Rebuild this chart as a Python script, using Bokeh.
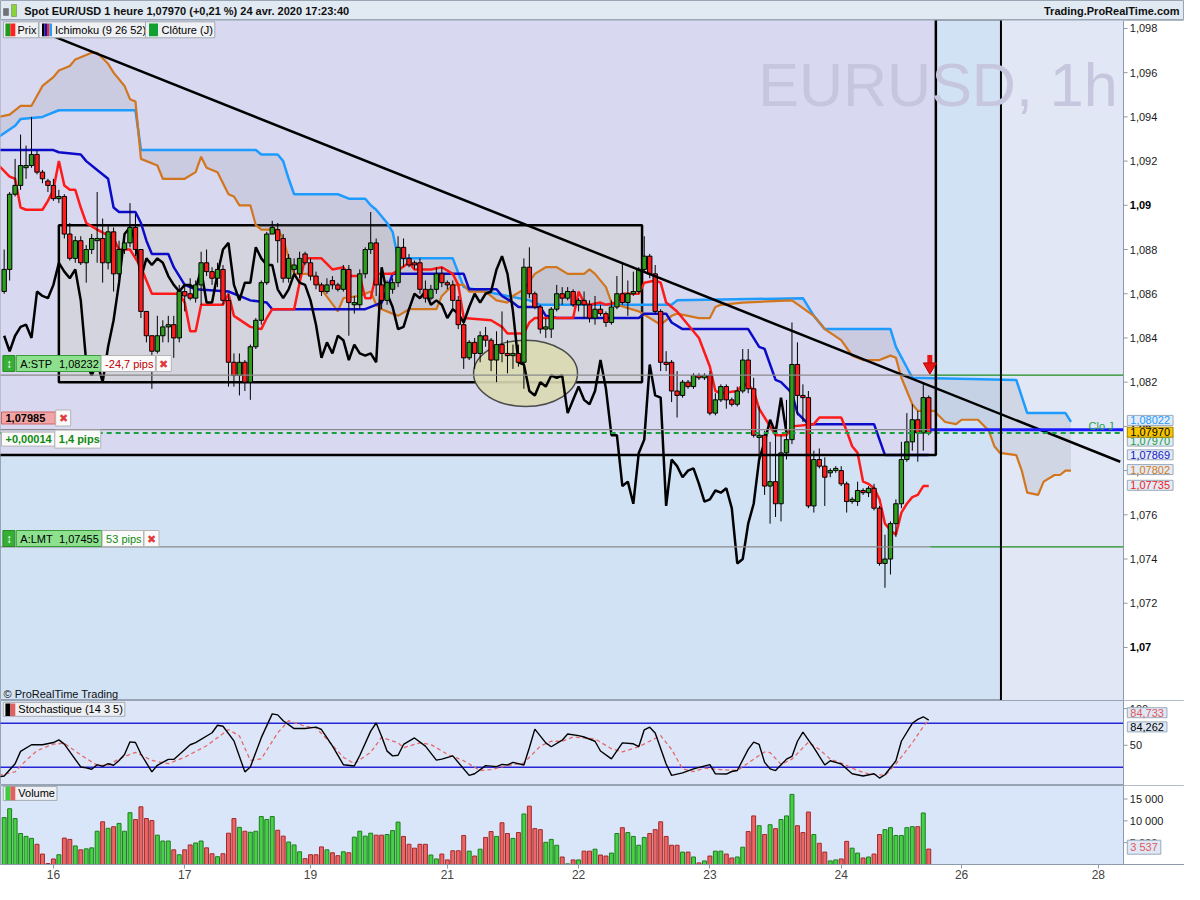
import numpy as np
from bokeh.plotting import figure
from bokeh.layouts import column
from bokeh.models import (Range1d, FixedTicker, Label, BoxAnnotation,
                          ColumnDataSource)
from bokeh.core.properties import value
from bokeh.embed import file_html
from bokeh.resources import INLINE

FONT = "Liberation Sans"
W = 1184

# ---------------- data (hourly EUR/USD, 15 -> 24 April 2020) ----------------
opens = [
    1.0861, 1.0871, 1.0905, 1.0909, 1.0917, 1.0918, 1.0923, 1.0915, 1.0911, 1.0909,
    1.0903, 1.0904, 1.0887, 1.0876, 1.0884, 1.0874, 1.0880, 1.0884, 1.0885, 1.0874,
    1.0888, 1.0869, 1.0880, 1.0883, 1.0890, 1.0880, 1.0852, 1.0841, 1.0834, 1.0841,
    1.0845, 1.0846, 1.0840, 1.0861, 1.0860, 1.0858, 1.0864, 1.0874, 1.0870, 1.0867,
    1.0871, 1.0857, 1.0829, 1.0823, 1.0829, 1.0820, 1.0836, 1.0848, 1.0865, 1.0887,
    1.0889, 1.0885, 1.0867, 1.0871, 1.0869, 1.0878, 1.0874, 1.0868, 1.0864, 1.0861,
    1.0866, 1.0864, 1.0862, 1.0871, 1.0855, 1.0855, 1.0869, 1.0880, 1.0883, 1.0864,
    1.0857, 1.0862, 1.0865, 1.0881, 1.0876, 1.0874, 1.0874, 1.0862, 1.0858, 1.0862,
    1.0869, 1.0865, 1.0864, 1.0857, 1.0846, 1.0831, 1.0838, 1.0833, 1.0841, 1.0839,
    1.0830, 1.0837, 1.0833, 1.0832, 1.0833, 1.0829, 1.0872, 1.0860, 1.0854, 1.0844,
    1.0844, 1.0853, 1.0860, 1.0858, 1.0861, 1.0855, 1.0857, 1.0855, 1.0849, 1.0853,
    1.0851, 1.0847, 1.0854, 1.0860, 1.0856, 1.0860, 1.0861, 1.0871, 1.0877, 1.0869,
    1.0852, 1.0829, 1.0829, 1.0816, 1.0814, 1.0820, 1.0818, 1.0823, 1.0822, 1.0823,
    1.0806, 1.0812, 1.0818, 1.0812, 1.0810, 1.0816, 1.0830, 1.0817, 1.0795, 1.0796,
    1.0773, 1.0775, 1.0765, 1.0788, 1.0794, 1.0828, 1.0814, 1.0813, 1.0764, 1.0785,
    1.0782, 1.0779, 1.0780, 1.0780, 1.0774, 1.0766, 1.0766, 1.0771, 1.0770, 1.0772,
    1.0763, 1.0738, 1.0740, 1.0756, 1.0765, 1.0785, 1.0793, 1.0803, 1.0797, 1.0813,
]
highs = [
    1.0880, 1.0906, 1.0921, 1.0932, 1.0927, 1.0940, 1.0925, 1.0916, 1.0912, 1.0912,
    1.0907, 1.0905, 1.0892, 1.0886, 1.0886, 1.0882, 1.0887, 1.0906, 1.0894, 1.0891,
    1.0890, 1.0884, 1.0886, 1.0901, 1.0896, 1.0880, 1.0852, 1.0841, 1.0850, 1.0848,
    1.0850, 1.0850, 1.0864, 1.0864, 1.0867, 1.0866, 1.0879, 1.0880, 1.0872, 1.0874,
    1.0873, 1.0860, 1.0833, 1.0833, 1.0830, 1.0837, 1.0849, 1.0866, 1.0888, 1.0893,
    1.0892, 1.0887, 1.0878, 1.0876, 1.0879, 1.0879, 1.0876, 1.0870, 1.0865, 1.0867,
    1.0868, 1.0865, 1.0873, 1.0873, 1.0859, 1.0871, 1.0881, 1.0897, 1.0885, 1.0866,
    1.0866, 1.0867, 1.0886, 1.0885, 1.0878, 1.0875, 1.0876, 1.0866, 1.0864, 1.0872,
    1.0872, 1.0866, 1.0866, 1.0859, 1.0847, 1.0839, 1.0840, 1.0843, 1.0845, 1.0840,
    1.0843, 1.0852, 1.0839, 1.0837, 1.0837, 1.0876, 1.0881, 1.0861, 1.0855, 1.0849,
    1.0854, 1.0864, 1.0863, 1.0863, 1.0862, 1.0858, 1.0861, 1.0857, 1.0859, 1.0855,
    1.0852, 1.0857, 1.0868, 1.0874, 1.0866, 1.0870, 1.0872, 1.0886, 1.0878, 1.0873,
    1.0853, 1.0834, 1.0830, 1.0825, 1.0821, 1.0821, 1.0824, 1.0824, 1.0824, 1.0825,
    1.0815, 1.0819, 1.0819, 1.0813, 1.0818, 1.0835, 1.0835, 1.0822, 1.0809, 1.0798,
    1.0793, 1.0800, 1.0796, 1.0812, 1.0847, 1.0838, 1.0819, 1.0816, 1.0789, 1.0790,
    1.0786, 1.0781, 1.0782, 1.0782, 1.0775, 1.0768, 1.0775, 1.0772, 1.0773, 1.0774,
    1.0764, 1.0751, 1.0757, 1.0767, 1.0793, 1.0806, 1.0810, 1.0807, 1.0820, 1.0814,
]
lows = [
    1.0860, 1.0866, 1.0904, 1.0907, 1.0912, 1.0917, 1.0914, 1.0910, 1.0906, 1.0902,
    1.0901, 1.0885, 1.0875, 1.0874, 1.0873, 1.0865, 1.0878, 1.0874, 1.0865, 1.0871,
    1.0861, 1.0867, 1.0878, 1.0881, 1.0877, 1.0849, 1.0838, 1.0817, 1.0833, 1.0838,
    1.0838, 1.0831, 1.0838, 1.0852, 1.0857, 1.0856, 1.0855, 1.0868, 1.0864, 1.0863,
    1.0855, 1.0818, 1.0818, 1.0814, 1.0816, 1.0812, 1.0835, 1.0846, 1.0864, 1.0887,
    1.0874, 1.0865, 1.0865, 1.0869, 1.0867, 1.0873, 1.0866, 1.0862, 1.0859, 1.0860,
    1.0862, 1.0861, 1.0861, 1.0841, 1.0851, 1.0853, 1.0867, 1.0878, 1.0859, 1.0853,
    1.0855, 1.0860, 1.0863, 1.0872, 1.0872, 1.0871, 1.0860, 1.0856, 1.0857, 1.0860,
    1.0863, 1.0862, 1.0853, 1.0844, 1.0826, 1.0830, 1.0826, 1.0829, 1.0836, 1.0825,
    1.0820, 1.0829, 1.0824, 1.0826, 1.0827, 1.0817, 1.0858, 1.0853, 1.0842, 1.0840,
    1.0840, 1.0852, 1.0855, 1.0857, 1.0854, 1.0852, 1.0849, 1.0847, 1.0846, 1.0850,
    1.0845, 1.0846, 1.0853, 1.0855, 1.0850, 1.0859, 1.0860, 1.0870, 1.0867, 1.0851,
    1.0825, 1.0825, 1.0811, 1.0804, 1.0813, 1.0817, 1.0817, 1.0821, 1.0821, 1.0805,
    1.0805, 1.0811, 1.0808, 1.0809, 1.0809, 1.0815, 1.0815, 1.0795, 1.0784, 1.0769,
    1.0756, 1.0759, 1.0757, 1.0785, 1.0792, 1.0805, 1.0802, 1.0763, 1.0761, 1.0781,
    1.0764, 1.0777, 1.0779, 1.0773, 1.0761, 1.0765, 1.0764, 1.0769, 1.0768, 1.0762,
    1.0737, 1.0727, 1.0733, 1.0750, 1.0763, 1.0784, 1.0789, 1.0784, 1.0789, 1.0796,
]
closes = [
    1.0871, 1.0905, 1.0909, 1.0918, 1.0918, 1.0923, 1.0915, 1.0912, 1.0909, 1.0903,
    1.0904, 1.0887, 1.0876, 1.0884, 1.0874, 1.0880, 1.0885, 1.0885, 1.0874, 1.0888,
    1.0869, 1.0880, 1.0883, 1.0890, 1.0880, 1.0852, 1.0841, 1.0834, 1.0841, 1.0845,
    1.0846, 1.0840, 1.0861, 1.0859, 1.0858, 1.0864, 1.0874, 1.0870, 1.0867, 1.0871,
    1.0857, 1.0829, 1.0823, 1.0829, 1.0820, 1.0836, 1.0848, 1.0865, 1.0887, 1.0890,
    1.0884, 1.0867, 1.0876, 1.0873, 1.0876, 1.0874, 1.0868, 1.0864, 1.0861, 1.0864,
    1.0864, 1.0862, 1.0871, 1.0856, 1.0856, 1.0869, 1.0880, 1.0883, 1.0864, 1.0857,
    1.0865, 1.0865, 1.0881, 1.0876, 1.0873, 1.0873, 1.0862, 1.0858, 1.0862, 1.0869,
    1.0865, 1.0864, 1.0857, 1.0846, 1.0831, 1.0838, 1.0833, 1.0841, 1.0839, 1.0830,
    1.0837, 1.0833, 1.0832, 1.0833, 1.0829, 1.0872, 1.0860, 1.0854, 1.0844, 1.0845,
    1.0853, 1.0860, 1.0858, 1.0861, 1.0855, 1.0857, 1.0855, 1.0849, 1.0853, 1.0851,
    1.0847, 1.0854, 1.0860, 1.0856, 1.0860, 1.0861, 1.0871, 1.0877, 1.0869, 1.0852,
    1.0829, 1.0828, 1.0816, 1.0814, 1.0820, 1.0818, 1.0823, 1.0822, 1.0823, 1.0806,
    1.0812, 1.0818, 1.0812, 1.0810, 1.0816, 1.0830, 1.0817, 1.0796, 1.0796, 1.0773,
    1.0775, 1.0765, 1.0788, 1.0794, 1.0828, 1.0814, 1.0813, 1.0764, 1.0785, 1.0782,
    1.0777, 1.0780, 1.0781, 1.0774, 1.0766, 1.0767, 1.0771, 1.0770, 1.0772, 1.0763,
    1.0738, 1.0740, 1.0756, 1.0765, 1.0785, 1.0793, 1.0803, 1.0797, 1.0813, 1.0797,
]
volumes = [
    10750, 12770, 10530, 7100, 6430, 5980, 4630, 2390, 220, 1270,
    2240, 6050, 5750, 4250, 3360, 3580, 3810, 7620, 9780, 8290,
    8660, 9410, 7620, 11870, 10300, 13220, 10530, 10080, 6720, 5380,
    5380, 3360, 2240, 3360, 4480, 4930, 5380, 3810, 2460, 1790,
    2460, 7170, 10530, 8510, 7620, 7390, 7620, 10980, 10300, 10980,
    7840, 6500, 5150, 4480, 2910, 1340, 2240, 2240, 4030, 3360,
    2690, 2020, 2910, 2690, 6270, 7620, 6500, 7170, 6720, 6720,
    6870, 7770, 9710, 6420, 4630, 3740, 4630, 4630, 2170, 1270,
    2390, 1050, 3140, 3140, 6650, 3060, 1940, 3510, 6200, 7550,
    6420, 9560, 7100, 5980, 7320, 11580, 13370, 8220, 7990, 5080,
    5750, 4410, 1720, 150, 1050, 1050, 3060, 3060, 3510, 2170,
    1940, 2610, 7100, 8440, 7320, 6420, 4410, 6200, 7100, 7990,
    9780, 6420, 4410, 4410, 2840, 2840, 1720, 370, 820, 1940,
    3060, 3060, 2390, 1490, 1720, 3960, 7550, 11130, 8890, 6870,
    9110, 8220, 10310, 11130, 16060, 8890, 7320, 12020, 6870, 4860,
    2840, 820, 1050, 1270, 5300, 3740, 2610, 1490, 1720, 2390,
    6870, 7990, 8440, 6650, 6650, 8440, 8670, 8670, 11800, 3537,
]

# Ichimoku (9 26 52) lines, read as (bar, price) turning points
tenkan_pts = [
    (-1, 1.0918), (1, 1.0913), (2, 1.0912), (3, 1.0899), (4, 1.0898), (7, 1.0898),
    (8, 1.0902), (9, 1.0907), (10, 1.0920), (11, 1.0909), (12, 1.0907), (13, 1.0907),
    (14, 1.0899), (15, 1.0892), (17, 1.0889), (20, 1.0885), (21, 1.0880), (23, 1.0880),
    (25, 1.0872), (26, 1.0866), (27, 1.0860), (32, 1.0860), (33, 1.0856), (34, 1.0843),
    (35, 1.0843), (36, 1.0855), (40, 1.0855), (41, 1.0860), (42, 1.0850), (45, 1.0845),
    (47, 1.0844), (48, 1.0849), (49, 1.0853), (53, 1.0853), (54, 1.0865), (55, 1.0876),
    (58, 1.0876), (60, 1.0871), (62, 1.0872), (63, 1.0868), (65, 1.0868), (66, 1.0858),
    (67, 1.0858), (68, 1.0869), (71, 1.0869), (74, 1.0874), (75, 1.0871), (78, 1.0871),
    (80, 1.0872), (82, 1.0869), (83, 1.0864), (84, 1.0849), (89, 1.0848), (91, 1.0845),
    (92, 1.0842), (95, 1.0842), (96, 1.0847), (97, 1.0849), (104, 1.0849), (105, 1.0861),
    (106, 1.0856), (107, 1.0855), (109, 1.0856), (110, 1.0855), (112, 1.0856), (113, 1.0860),
    (116, 1.0860), (117, 1.0865), (119, 1.0866), (120, 1.0865), (121, 1.0856), (123, 1.0852),
    (125, 1.0846), (127, 1.0840), (129, 1.0827), (130, 1.0816), (131, 1.0815), (134, 1.0816),
    (135, 1.0819), (136, 1.0819), (137, 1.0816), (138, 1.0808), (140, 1.0800), (141, 1.0796),
    (143, 1.0796), (144, 1.0800), (148, 1.0801), (149, 1.0804), (153, 1.0804), (154, 1.0798),
    (155, 1.0791), (156, 1.0788), (157, 1.0775), (158, 1.0774), (159, 1.0772), (160, 1.0767),
    (161, 1.0756), (162, 1.0753), (163, 1.0751), (164, 1.0761), (165, 1.0765), (166, 1.0768),
    (167, 1.0769), (168, 1.0773), (169, 1.0773),
]
kijun_pts = [
    (-1, 1.0925), (9, 1.0925), (10, 1.0924), (14, 1.0923), (15, 1.0920), (17, 1.0916),
    (19, 1.0912), (20, 1.0899), (21, 1.0897), (24, 1.0897), (25, 1.0892), (26, 1.0884),
    (27, 1.0878), (30, 1.0878), (31, 1.0872), (33, 1.0864), (35, 1.0862), (41, 1.0861),
    (44, 1.0858), (45, 1.0857), (48, 1.0856), (49, 1.0853), (66, 1.0853), (69, 1.0856),
    (70, 1.0862), (71, 1.0869), (84, 1.0869), (85, 1.0862), (90, 1.0862), (91, 1.0859),
    (93, 1.0856), (94, 1.0854), (98, 1.0854), (99, 1.0850), (101, 1.0849), (116, 1.0849),
    (117, 1.0851), (121, 1.0851), (122, 1.0847), (124, 1.0844), (136, 1.0844), (138, 1.0836),
    (139, 1.0835), (141, 1.0821), (142, 1.0820), (144, 1.0815), (145, 1.0806), (147, 1.0801),
    (159, 1.0801), (161, 1.0787), (169, 1.0787),
]
senkou_a_pts = [
    (-1, 1.0940), (1, 1.0941), (3, 1.0945), (5, 1.0945), (7, 1.0954), (9, 1.0958),
    (10, 1.0961), (12, 1.0963), (13, 1.0966), (16, 1.0969), (17, 1.0969), (19, 1.0964),
    (20, 1.0960), (22, 1.0954), (23, 1.0948), (24, 1.0947), (25, 1.0921), (28, 1.0918),
    (29, 1.0912), (33, 1.0912), (35, 1.0915), (36, 1.0922), (37, 1.0917), (39, 1.0915),
    (41, 1.0905), (42, 1.0904), (43, 1.0900), (45, 1.0900), (46, 1.0891), (47, 1.0889),
    (50, 1.0889), (51, 1.0885), (52, 1.0876), (53, 1.0869), (56, 1.0869), (57, 1.0867),
    (58, 1.0862), (61, 1.0852), (62, 1.0858), (65, 1.0859), (67, 1.0861), (68, 1.0855),
    (69, 1.0853), (71, 1.0851), (72, 1.0850), (74, 1.0853), (79, 1.0853), (80, 1.0859),
    (82, 1.0864), (84, 1.0864), (85, 1.0861), (88, 1.0861), (90, 1.0857), (92, 1.0856),
    (93, 1.0859), (95, 1.0862), (97, 1.0869), (99, 1.0872), (101, 1.0872), (103, 1.0869),
    (106, 1.0869), (107, 1.0871), (108, 1.0869), (110, 1.0863), (111, 1.0856), (112, 1.0855),
    (116, 1.0852), (118, 1.0849), (120, 1.0846), (122, 1.0850), (123, 1.0851), (127, 1.0849),
    (129, 1.0849), (130, 1.0854), (131, 1.0855), (135, 1.0856), (144, 1.0857), (148, 1.0850),
    (150, 1.0844), (153, 1.0839), (155, 1.0832), (157, 1.0830), (160, 1.0830), (162, 1.0832),
    (163, 1.0831), (164, 1.0822), (166, 1.0810), (167, 1.0807), (170, 1.0807), (172, 1.0802),
    (174, 1.0801), (175, 1.0803), (178, 1.0803), (180, 1.0798), (181, 1.0791), (182, 1.0788),
    (185, 1.0787), (186, 1.0780), (187, 1.0770), (189, 1.0769), (190, 1.0775), (192, 1.0778),
    (193, 1.0778), (194, 1.0780), (195, 1.0780),
]
senkou_b_pts = [
    (-1, 1.0931), (2, 1.0936), (3, 1.0939), (7, 1.0940), (8, 1.0941), (10, 1.0943),
    (24, 1.0943), (25, 1.0925), (46, 1.0925), (47, 1.0923), (50, 1.0923), (51, 1.0920),
    (52, 1.0912), (53, 1.0905), (61, 1.0905), (63, 1.0903), (66, 1.0903), (67, 1.0900),
    (68, 1.0898), (70, 1.0892), (71, 1.0888), (72, 1.0876), (82, 1.0876), (84, 1.0863),
    (88, 1.0861), (92, 1.0859), (96, 1.0857), (98, 1.0855), (122, 1.0855), (123, 1.0857),
    (146, 1.0858), (148, 1.0850), (150, 1.0844), (162, 1.0844), (163, 1.0836), (166, 1.0822),
    (185, 1.0821), (187, 1.0806), (194, 1.0806), (195, 1.0802),
]
chikou_shift = 26

# Stochastique (14 3 5)
stoch_k_pts = [
    (-1, 7), (0, 8), (2, 24.8), (3, 41.7), (5, 50.7), (7, 50.7), (9, 53.7), (10, 57.3),
    (11, 51.5), (14, 20.4), (15, 19.1), (16, 17.3), (17, 23.5), (18, 21.3), (19, 24.8),
    (20, 22.7), (21, 29.3), (22, 37.3), (23, 54.7), (24, 53.7), (25, 38.1), (27, 13.7),
    (28, 22.7), (30, 30.7), (31, 30.7), (34, 50.7), (35, 53.7), (38, 67.1), (39, 77.3),
    (40, 76), (42, 56), (44, 13.7), (45, 20.4), (47, 60.4), (49, 92.8), (50, 91.5),
    (51, 83.5), (53, 72.8), (55, 72.8), (57, 74.7), (58, 71.5), (60, 49.3), (62, 23.5),
    (64, 21.7), (65, 36), (67, 69.3), (68, 80.4), (69, 62), (70, 42), (71, 35.5),
    (72, 36.4), (73, 51.1), (75, 60), (77, 48.9), (79, 29.8), (80, 31.1), (82, 35.5),
    (85, 8.9), (86, 11.1), (88, 22.2), (90, 20.9), (91, 24), (92, 23.1), (93, 26.7),
    (95, 23.1), (96, 46.7), (97, 72), (99, 53.3), (100, 48), (102, 56.9), (103, 65.3),
    (105, 63.1), (106, 61.3), (108, 55.5), (109, 42.2), (111, 31.5), (113, 53.3), (115, 52),
    (116, 48), (117, 71.1), (118, 74.7), (119, 66.7), (121, 24.4), (122, 8.9), (124, 12.4),
    (126, 17.8), (129, 23.6), (130, 11.1), (132, 10.7), (133, 14.2), (134, 15.5), (136, 44.4),
    (137, 54.2), (138, 51.1), (139, 26.7), (140, 17.8), (141, 15.5), (143, 31.1), (144, 34.7),
    (145, 55.5), (146, 68), (148, 46.7), (150, 23.1), (151, 28.9), (152, 26.7), (153, 24.4),
    (155, 11.1), (157, 8), (159, 11.1), (160, 5.3), (161, 9.8), (163, 28.9), (164, 55.5),
    (166, 80), (167, 85.3), (168, 88.9), (169, 84.3),
]
stoch_d_pts = [
    (-1, 9), (2, 13.7), (4, 29.3), (6, 42.7), (9, 51.5), (11, 52.8), (14, 36.8), (17, 22.7),
    (19, 22.7), (21, 31.5), (24, 40.4), (27, 29.3), (30, 24.8), (33, 33.7), (37, 49.3),
    (41, 71.5), (43, 62.7), (45, 29.3), (47, 31.5), (50, 67.1), (52, 83.5), (55, 76),
    (57, 73.7), (59, 58.1), (62, 33.7), (64, 24.8), (67, 40.4), (69, 61), (72, 53.3),
    (73, 46.7), (76, 53.3), (78, 51.1), (81, 37.8), (84, 28.9), (87, 15.5), (89, 16.9),
    (92, 22.2), (95, 25.8), (98, 48.9), (100, 55.5), (102, 55.5), (104, 61.3), (108, 58.7),
    (111, 45.3), (113, 40.9), (116, 48), (120, 63.1), (122, 44.4), (124, 17.8), (126, 14.2),
    (128, 18.7), (131, 16.9), (134, 15.5), (137, 31.1), (139, 40.9), (140, 40), (142, 24),
    (144, 31.1), (147, 54.2), (149, 44.4), (151, 31.1), (153, 25.8), (156, 15.5), (158, 11.1),
    (161, 8.9), (163, 24.4), (166, 53.3), (168, 75.5), (169, 84.7),
]
stoch_levels = [20, 80]

day_ticks = [9, 33, 56, 81, 105, 129, 153, 175, 200]
day_labels = ["16", "17", "19", "21", "22", "23", "24", "26", "28"]
price_ticks = [1.072, 1.074, 1.076, 1.078, 1.082, 1.084, 1.086, 1.088,
               1.092, 1.094, 1.096, 1.098]
price_tick_labels = ["1,072", "1,074", "1,076", "1,078", "1,082", "1,084", "1,086",
                     "1,088", "1,092", "1,094", "1,096", "1,098"]
price_round_ticks = [1.07, 1.08, 1.09]
price_round_labels = ["1,07", "1,08", "1,09"]
stoch_ticks = [50, 100]
stoch_tick_labels = ["50", "100"]
volume_ticks = [5000, 10000, 15000]
volume_tick_labels = ["5 000", "10 000", "15 000"]

# orders / levels
stop_level = 1.08232
limit_level = 1.07455
entry_level = 1.07985
last_price = 1.07970

# drawings on the chart (bar index, price)
range_box = dict(left=10.0, right=116.6, bottom=1.0820, top=1.0891)
zone_right, zone_bottom = 170.3, 1.07871
session_x = 182.2
trend_x = [6.4, 204.0]
trend_y = [1.0979, 1.0784]
ellipse_xy = (95.3, 1.0824)
ellipse_size = (19.0, 0.0030)
arrow_xy = (169.2, 1.0827)

# ---------------- helpers ----------------
AX0 = 204.6          # left edge of the price scale, in bars
XR = Range1d(-0.67, 215.75)
GRID = "#8c9aac"


def tag(fig, x, y, text, color="#000000", bg=None, border=None, pad=(3, 3, 1, 1),
        size="11px", bold=False, align="left", baseline="middle"):
    l, r, t, b = pad
    fig.add_layout(Label(
        x=x, y=y, x_units="screen", y_units="screen", text=text,
        text_color=color, text_font=FONT, text_font_size=size,
        text_font_style="bold" if bold else "normal",
        text_align=align, text_baseline=baseline,
        background_fill_color=bg, border_line_color=border,
        padding=dict(left=l, right=r, top=t, bottom=b)))


def swatch(fig, x0, x1, y0, y1, color):
    fig.add_layout(BoxAnnotation(
        left=x0, right=x1, bottom=y0, top=y1,
        left_units="screen", right_units="screen",
        bottom_units="screen", top_units="screen",
        fill_color=color, fill_alpha=1.0, line_color=None, level="overlay"))


def scale(fig, ticks, labels, bold_ticks=(), bold_labels=()):
    """Right-hand value scale: white strip, axis line, ticks and labels."""
    y0, y1 = fig.y_range.start, fig.y_range.end
    fig.quad(left=[AX0], right=[217], bottom=[y0], top=[y1], fill_color="white",
             line_color=None)
    fig.segment(x0=[AX0], y0=[y0], x1=[AX0], y1=[y1], line_color=GRID, line_width=1)
    allt = list(ticks) + list(bold_ticks)
    fig.segment(x0=[AX0] * len(allt), y0=allt, x1=[AX0 + 0.75] * len(allt), y1=allt,
                line_color=GRID, line_width=1)
    fig.text(x=[AX0 + 1.15] * len(ticks), y=list(ticks), text=list(labels),
             text_font=value(FONT), text_font_size="11px", text_color="#1a1a1a",
             text_baseline="middle")
    if bold_ticks:
        fig.text(x=[AX0 + 1.15] * len(bold_ticks), y=list(bold_ticks),
                 text=list(bold_labels), text_font=value(FONT), text_font_size="11px",
                 text_font_style="bold", text_color="#000000", text_baseline="middle")


def base_fig(height, y_range, bg, **kw):
    f = figure(width=W, height=height, x_range=XR, y_range=y_range,
               y_axis_location=None, output_backend="svg", toolbar_location=None,
               min_border_left=0, min_border_right=0, min_border_top=0, **kw)
    f.grid.visible = False
    f.background_fill_color = bg
    f.border_fill_color = "white"
    f.outline_line_color = "#98a4b4"
    return f


x = np.arange(len(closes))
o, h, lo, c = map(np.array, (opens, highs, lows, closes))
up = c >= o
src = ColumnDataSource(dict(
    x=x, top=np.maximum(o, c), bottom=np.minimum(o, c), high=h, low=lo,
    body=np.where(up, "#2f9e1f", "#ff1c1c"),
    vol=np.array(volumes),
    vfill=np.where(up, "#46d046", "#e86666"),
    vline=np.where(up, "#1d7d1d", "#a52828"),
))
past_end = x[-1] + 0.3

# ---------------- header ----------------
hd = figure(width=W, height=20, x_range=Range1d(0, W), y_range=Range1d(0, 20),
            x_axis_location=None, y_axis_location=None, min_border=0,
            output_backend="svg", toolbar_location=None)
hd.grid.visible = False
hd.background_fill_color = "#e1e9f2"
hd.border_fill_color = "#e1e9f2"
hd.outline_line_color = "#9aa6b4"
hd.add_layout(BoxAnnotation(left=3, right=8, bottom=5, top=12, fill_color="#6e7378",
                            fill_alpha=1, line_color="#303030"))
hd.add_layout(BoxAnnotation(left=11, right=16, bottom=4, top=16, fill_color="#8ad43a",
                            fill_alpha=1, line_color="#303030"))
hd.add_layout(Label(x=23.7, y=10, text="Spot EUR/USD 1 heure 1,07970 (+0,21 %) 24 avr. 2020 17:23:40",
                    text_font=FONT, text_font_size="11px", text_font_style="bold",
                    text_baseline="middle", text_color="#101010"))
hd.add_layout(Label(x=W - 5, y=10, text="Trading.ProRealTime.com", text_align="right",
                    text_font=FONT, text_font_size="11px", text_font_style="bold",
                    text_baseline="middle", text_color="#101010"))

# ---------------- price panel ----------------
p = base_fig(680, Range1d(1.0676, 1.09836), "#d2e2f5", x_axis_location=None,
             min_border_bottom=0)

p.quad(left=[-1], right=[zone_right], bottom=[zone_bottom], top=[1.0990],
       fill_color="#d8d8f0", line_color=None)
p.quad(left=[session_x], right=[AX0], bottom=[1.06], top=[1.10],
       fill_color="#e1e7f4", line_color=None)
p.quad(**{k: [v] for k, v in range_box.items()}, fill_color="#d4d4de",
       line_color="black", line_width=2.5)
p.ellipse(x=[ellipse_xy[0]], y=[ellipse_xy[1]], width=ellipse_size[0],
          height=ellipse_size[1], fill_color="#dadab2", fill_alpha=0.9,
          line_color="#4a4a4a", line_width=1.5)

ax_, ay_ = zip(*senkou_a_pts)
bx_, by_ = zip(*senkou_b_pts)
p.patch(list(ax_) + list(bx_)[::-1], list(ay_) + list(by_)[::-1],
        fill_color="#8c8ca0", fill_alpha=0.18, line_color=None)
p.line(bx_, by_, line_color="#1e9bff", line_width=2.5)
p.line(ax_, ay_, line_color="#d2761e", line_width=2.2)
kx_, ky_ = zip(*kijun_pts)
p.line(kx_, ky_, line_color="#0c0cc8", line_width=2.5)
tx_, ty_ = zip(*tenkan_pts)
p.line(tx_, ty_, line_color="#ff1a1a", line_width=2.5)
p.line(x[:-chikou_shift], c[chikou_shift:], line_color="black", line_width=2.5)

p.segment(x0="x", y0="low", x1="x", y1="high", source=src, line_color="black", line_width=1)
p.vbar(x="x", width=0.8, top="top", bottom="bottom", fill_color="body",
       line_color="black", line_width=1, source=src)

p.line(trend_x, trend_y, line_color="black", line_width=2.5)

p.segment(x0=[-1, -1, -1], y0=[stop_level, limit_level, entry_level],
          x1=[past_end] * 3, y1=[stop_level, limit_level, entry_level],
          line_color="#8a8a8a", line_width=1.2)
p.segment(x0=[past_end] * 2, y0=[stop_level, limit_level], x1=[AX0] * 2,
          y1=[stop_level, limit_level], line_color="#1e8c1e", line_width=1.2)
p.segment(x0=[past_end], y0=[entry_level], x1=[AX0], y1=[entry_level],
          line_color="#1a1aff", line_width=3)
p.line([-1, AX0], [last_price, last_price], line_color="#17a03c", line_width=2,
       line_dash="5 4")

p.line([-1, zone_right, zone_right], [zone_bottom, zone_bottom, 1.0990],
       line_color="black", line_width=2.5)
p.segment(x0=[session_x], y0=[1.06], x1=[session_x], y1=[1.10],
          line_color="black", line_width=2)

p.rect(x=[arrow_xy[0]], y=[arrow_xy[1] + 0.00035], width=5, height=8,
       width_units="screen", height_units="screen", fill_color="#e81515", line_color=None)
p.scatter(x=[arrow_xy[0]], y=[arrow_xy[1]], marker="inverted_triangle", size=13,
          fill_color="#e81515", line_color="#c00000")

scale(p, price_ticks, price_tick_labels, price_round_ticks, price_round_labels)

# watermark and captions
tag(p, 757.8, 616, "EURUSD, 1h", color="#c6c6de", size="61px", pad=(0, 0, 0, 0),
    baseline="alphabetic")
tag(p, 3, 7, "\u00a9 ProRealTime Trading", color="#101010", pad=(0, 0, 0, 0))
tag(p, 1088, 275, "Clo J", color="#22a04a", pad=(0, 0, 0, 0))

# legend boxes
LBG, LBD = "#eef0f3", "#a4abb4"
tag(p, 3, 670.7, "Prix", bg=LBG, border=LBD, pad=(14, 2, 2, 2))
tag(p, 38.5, 670.7, "Ichimoku (9 26 52)", bg=LBG, border=LBD, pad=(16, 2, 2, 2))
tag(p, 145, 670.7, "Cl\u00f4ture (J)", bg=LBG, border=LBD, pad=(16, 2, 2, 2))
swatch(p, 4.9, 9.9, 664.3, 677.1, "#1f9a1f")
swatch(p, 9.9, 14.8, 664.3, 677.1, "#ff2020")
for i, col in enumerate(["#000000", "#1010c0", "#ff2020", "#20a0ff"]):
    swatch(p, 41.5 + 2.5 * i, 44.0 + 2.5 * i, 664.3, 677.1, col)
swatch(p, 148.5, 157.5, 664.3, 677.1, "#12a032")

# order tags on the left
GBG, GBD, WBG, WBD = "#8de08d", "#3c9c3c", "#fafafa", "#b4b4b4"
for ys, name, lvl, pips, pcol, px, xx in [
        (337, "A:STP", "1,08232", "-24,7 pips", "#c00000", 100.6, 163.3),
        (162, "A:LMT", "1,07455", "53 pips", "#138a13", 101.6, 151.0)]:
    tag(p, 8.4, ys, "\u2195", color="white", bg="#35b035", border="#2a8a2a",
        size="12px", bold=True, align="center", pad=(3, 3, 1, 1))
    tag(p, 15.8, ys, name, bg=GBG, border=GBD, pad=(4, 49, 2, 2))
    tag(p, 58.5, ys, lvl, pad=(0, 0, 0, 0))
    tag(p, px, ys, pips, color=pcol, bg=WBG, border=WBD, pad=(4, 2, 2, 2))
    tag(p, xx, ys, "\u2716", color="#e23a3a", bg=WBG, border=WBD, align="center",
        pad=(3, 3, 2, 2))
tag(p, 1, 282.5, "1,07985", bold=True, bg="#f3a4a4", border="#cc6666", pad=(4, 10, 2, 2))
tag(p, 62.7, 282.5, "\u2716", color="#e23a3a", bg=WBG, border=WBD, align="center",
    pad=(3, 3, 2, 2))
tag(p, 1, 261.4, "+0,00014", color="#108a10", bold=True, bg=WBG, border=WBD,
    pad=(4, 3, 3, 3))
tag(p, 54.3, 261.4, "1,4 pips", color="#108a10", bold=True, bg=WBG, border=WBD,
    pad=(4, 1, 3, 3))

# value tags on the price scale
RBG, RBD = "#e3ebf6", "#9aaabb"
RX = 1126.8
tag(p, RX, 280.1, "1,08022", color="#1e9bff", bg=RBG, border=RBD)
tag(p, RX, 259.4, "1,07970", color="#20a040", bg=RBG, border=RBD)
tag(p, RX, 268.3, "1,07970", color="#000000", bg="#f8c700", border="#a08000")
tag(p, RX, 245.7, "1,07869", color="#1414c8", bg=RBG, border=RBD)
tag(p, RX, 230.9, "1,07802", color="#d47a20", bg=RBG, border=RBD)
tag(p, RX, 215.2, "1,07735", color="#f02020", bg=RBG, border=RBD)

# ---------------- stochastic panel ----------------
s = base_fig(85, Range1d(-4.9, 111.1), "#dde6f8", x_axis_location=None, min_border_bottom=0)
s.segment(x0=[-1] * len(stoch_levels), y0=stoch_levels, x1=[AX0] * len(stoch_levels),
          y1=stoch_levels, line_color="#2424d8", line_width=1.5)
sdx, sdy = zip(*stoch_d_pts)
s.line(sdx, sdy, line_color="#e46a6a", line_width=1.3, line_dash="4 3")
skx, sky = zip(*stoch_k_pts)
s.line(skx, sky, line_color="black", line_width=1.4)
scale(s, stoch_ticks, stoch_tick_labels)
tag(s, 2.8, 76.2, "Stochastique (14 3 5)", bg=LBG, border=LBD, pad=(15, 2, 1, 1))
swatch(s, 4.9, 9.9, 69.4, 82.1, "#000000")
swatch(s, 9.9, 14.8, 69.4, 82.1, "#e06060")
tag(s, RX, 72.8, "84,733", color="#e05a5a", bg="#dfe8f6", border=RBD)
tag(s, RX, 58.6, "84,262", color="#000000", bg="#dfe8f6", border=RBD)

# ---------------- volume panel ----------------
v = base_fig(99, Range1d(0, 18100), "#d9e5f8", min_border_bottom=20)
v.vbar(x="x", width=0.72, top="vol", bottom=0, fill_color="vfill",
       line_color="vline", line_width=1, source=src)
scale(v, volume_ticks, volume_tick_labels)
xa = v.xaxis[0]
xa.ticker = FixedTicker(ticks=day_ticks)
xa.major_label_overrides = dict(zip(day_ticks, day_labels))
xa.axis_line_color = GRID
xa.major_tick_line_color = GRID
xa.major_tick_out = 4
xa.major_tick_in = 0
xa.minor_tick_line_color = None
xa.major_label_text_font = FONT
xa.major_label_text_font_size = "12px"
xa.major_label_standoff = 1
tag(v, 2.8, 71.1, "Volume", bg=LBG, border=LBD, pad=(15, 2, 1, 1))
swatch(v, 4.9, 9.9, 64.2, 78.0, "#40cc40")
swatch(v, 9.9, 14.8, 64.2, 78.0, "#e06060")
tag(v, RX, 17.3, "3 537", color="#e05a5a", bg="#dfe8f6", border=RBD)

layout = column(hd, p, s, v, spacing=0)
open("out.html", "w").write(file_html(layout, INLINE))
